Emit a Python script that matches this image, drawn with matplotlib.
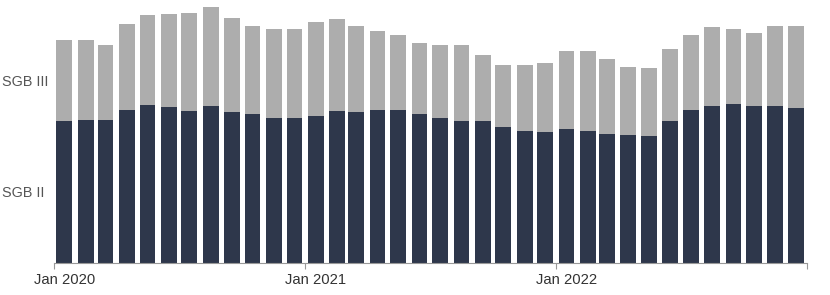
import matplotlib.pyplot as plt
import matplotlib.dates as mdates
import numpy as np
import datetime as dt

# monthly values, Jan 2020 - Dec 2022 (thousands)
months = [dt.date(2020 + i // 12, i % 12 + 1, 16) for i in range(36)]
sgb2 = [1537, 1548, 1548, 1656, 1710, 1688, 1645, 1699, 1634, 1613, 1570, 1570,
        1591, 1645, 1634, 1656, 1656, 1613, 1570, 1537, 1537, 1472, 1429, 1418,
        1451, 1429, 1397, 1386, 1375, 1537, 1656, 1699, 1721, 1699, 1699, 1678]
sgb3 = [875, 864, 810, 929, 972, 1004, 1058, 1069, 1015, 950, 961, 961,
        1015, 994, 929, 853, 810, 767, 788, 821, 713, 670, 713, 745,
        842, 864, 810, 734, 734, 778, 810, 853, 810, 788, 864, 886]
tick_dates = [dt.date(2020, 1, 1), dt.date(2021, 1, 1), dt.date(2022, 1, 1), dt.date(2023, 1, 1)]
label_dates = [dt.date(2020, 1, 16), dt.date(2021, 1, 16), dt.date(2022, 1, 16)]
tick_labels = ['Jan 2020', 'Jan 2021', 'Jan 2022']

plt.rcParams['font.family'] = ['Liberation Sans', 'DejaVu Sans']

fig = plt.figure(figsize=(8.3, 2.95), dpi=100)
W, H = 830, 295
ax = fig.add_axes([54 / W, (H - 263.3) / H, (807 - 54) / W, (263.3 - 7) / H])

dark = '#2e374b'
grey = '#adadad'
ax.bar(months, sgb2, width=23, color=dark, align='center')
ax.bar(months, sgb3, bottom=sgb2, width=23, color=grey, align='center')

total = np.array(sgb2) + np.array(sgb3)
ax.set_ylim(0, total.max())
ax.set_xlim(mdates.date2num(dt.date(2020, 1, 1)), mdates.date2num(dt.date(2023, 1, 1)))
# tick marks at year start, labels centred on the January bar
ax.set_xticks(mdates.date2num(tick_dates))
ax.set_xticklabels([])
ax.set_xticks(mdates.date2num(label_dates), minor=True)
ax.set_xticklabels(tick_labels, minor=True)
ax.set_yticks([])
for s in ['top', 'right', 'left']:
    ax.spines[s].set_visible(False)
ax.spines['bottom'].set_color('#999999')
ax.spines['bottom'].set_linewidth(0.8)
ax.tick_params(axis='x', which='major', length=4, color='#999999')
ax.tick_params(axis='x', which='minor', length=0, labelsize=10.6, labelcolor='#333333', pad=7)

# series labels beside the first bar
fig.text(2 / W, 1 - 82 / H, 'SGB III', ha='left', va='center', fontsize=10.4, color='#555555')
fig.text(2 / W, 1 - 193 / H, 'SGB II', ha='left', va='center', fontsize=10.4, color='#555555')

fig.savefig('out.png', dpi=100)
